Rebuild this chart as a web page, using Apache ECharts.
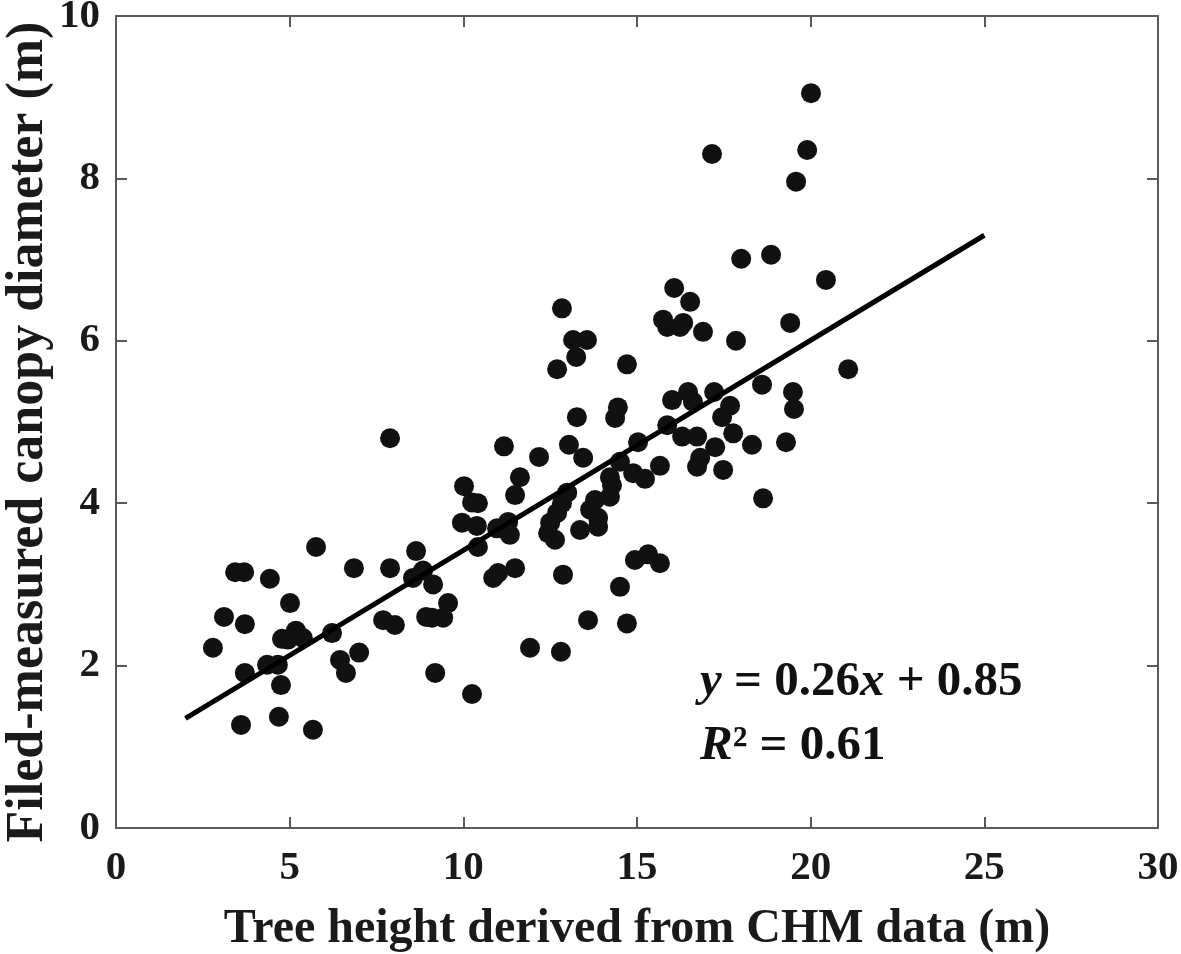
<!DOCTYPE html>
<html>
<head>
<meta charset="utf-8">
<script src="https://cdn.jsdelivr.net/npm/echarts@6/dist/echarts.min.js"></script>
<style>html,body{margin:0;padding:0;background:#fff;}#c{width:1181px;height:954px;}</style>
</head>
<body>
<div id="c"></div>
<script>
// Tree height (x, m) derived from CHM data
var treeHeight = [2.79,3.11,3.43,3.69,3.71,3.71,3.60,4.43,4.35,4.66,4.75,4.69,5.01,4.78,4.95,5.18,5.38,5.67,5.76,6.22,6.45,6.62,6.85,7.00,7.69,8.03,7.89,7.89,8.64,8.55,8.84,9.13,9.56,9.42,8.93,9.10,9.19,
  10.02,10.25,10.42,9.96,10.39,10.42,10.25,10.86,11.00,11.49,10.97,11.29,11.34,11.17,11.63,11.49,12.18,11.92,12.81,12.87,13.04,13.45,13.27,12.84,13.16,13.56,13.25,12.70,12.99,12.84,12.70,12.50,12.44,12.64,13.79,13.65,13.88,13.88,13.36,13.59,
  14.45,14.37,14.71,14.22,14.28,14.22,14.51,14.51,14.71,14.89,15.23,15.03,14.94,15.32,15.66,15.66,15.87,15.75,15.87,16.24,16.33,16.07,16.53,16.90,16.01,16.47,16.61,17.22,16.30,16.73,16.82,16.73,17.25,17.48,17.68,17.45,17.77,17.85,18.31,18.60,18.63,19.29,19.41,19.49,19.52,17.16,18.00,18.86,19.58,19.90,20.01,20.44,21.08];
// Field-measured canopy diameter (y, m)
var canopyDiameter = [2.22,2.60,3.15,3.15,2.51,1.91,1.27,3.07,2.01,2.01,1.76,1.37,2.77,2.33,2.32,2.43,2.34,1.21,3.46,2.40,2.07,1.91,3.20,2.16,2.56,2.50,4.80,3.20,3.41,3.08,3.17,3.00,2.77,2.59,2.60,2.59,1.91,
  4.21,4.01,4.00,3.76,3.72,3.46,1.65,3.08,3.14,3.20,3.69,3.77,3.61,4.70,4.32,4.10,4.57,2.22,2.17,3.12,4.72,4.56,5.06,6.40,6.01,6.01,5.80,5.65,4.13,4.00,3.88,3.76,3.63,3.55,4.04,3.92,3.82,3.71,3.67,2.56,
  5.18,5.05,5.71,4.32,4.22,4.08,4.51,2.97,2.52,4.37,4.30,4.75,3.30,3.37,3.26,4.46,4.96,6.26,6.17,6.17,6.22,6.65,6.48,6.11,5.27,5.37,5.25,5.37,4.82,4.82,4.56,4.45,4.69,4.41,5.20,5.06,4.86,6.00,4.72,5.46,4.06,4.75,6.22,5.37,5.16,8.30,7.01,7.06,7.96,8.35,9.05,6.75,5.65];
// Fitted line endpoints
var fitX = [2, 25];
var fitY = [1.35, 7.30];
var xTicks = [0, 5, 10, 15, 20, 25, 30];
var yTicks = [0, 2, 4, 6, 8, 10];
var xTitle = 'Tree height derived from CHM data (m)';
var yTitle = 'Filed-measured canopy diameter (m)';
var eqLine1 = ['y', ' = 0.26', 'x', ' + 0.85'];
var eqLine2 = ['R', '²', ' = 0.61'];

var points = treeHeight.map(function (v, i) { return [v, canopyDiameter[i]]; });
var fitLine = fitX.map(function (v, i) { return [v, fitY[i]]; });

var FONT = '"Liberation Serif", "Times New Roman", serif';
var axisCol = '#5a5a5a';
var labelStyle = { color: '#1a1a1a', fontFamily: FONT, fontWeight: 'bold', fontSize: 41 };

function boxAxis(pos) {
  return {
    type: 'value', position: pos, min: 0,
    max: pos === 'top' ? 30 : 10, interval: pos === 'top' ? 5 : 2,
    axisLine: { show: true, onZero: false, lineStyle: { color: axisCol, width: 2 } },
    axisTick: { show: true, inside: true, length: 11, lineStyle: { color: axisCol, width: 2 } },
    axisLabel: { show: false }, splitLine: { show: false }
  };
}

var chart = echarts.init(document.getElementById('c'), null, { renderer: 'canvas' });
chart.setOption({
  backgroundColor: '#ffffff',
  animation: false,
  grid: { left: 116, top: 16, right: 23, bottom: 126, containLabel: false, outerBoundsMode: 'none' },
  xAxis: [{
    type: 'value', min: 0, max: 30, interval: 5, position: 'bottom',
    name: xTitle, nameLocation: 'middle', nameGap: 78,
    nameTextStyle: { color: '#1a1a1a', fontFamily: FONT, fontWeight: 'bold', fontSize: 48 },
    axisLine: { show: true, onZero: false, lineStyle: { color: axisCol, width: 2 } },
    axisTick: { show: true, inside: true, length: 11, lineStyle: { color: axisCol, width: 2 } },
    axisLabel: Object.assign({ margin: 20, formatter: function (v) { return xTicks.indexOf(v) >= 0 ? String(v) : ''; } }, labelStyle),
    splitLine: { show: false }
  }, boxAxis('top')],
  yAxis: [{
    type: 'value', min: 0, max: 10, interval: 2, position: 'left',
    axisLine: { show: true, onZero: false, lineStyle: { color: axisCol, width: 2 } },
    axisTick: { show: true, inside: true, length: 11, lineStyle: { color: axisCol, width: 2 } },
    axisLabel: Object.assign({ margin: 16, formatter: function (v) { return yTicks.indexOf(v) >= 0 ? String(v) : ''; } }, labelStyle),
    splitLine: { show: false }
  }, boxAxis('right')],
  series: [{
    type: 'scatter', data: points, symbol: 'circle', symbolSize: 20,
    itemStyle: { color: '#111111', opacity: 1 }, z: 3
  }, {
    type: 'line', data: fitLine, symbol: 'none',
    lineStyle: { color: '#000000', width: 5 }, z: 4
  }],
  graphic: [{
    type: 'text', x: 29, y: 432, rotation: Math.PI / 2,
    style: {
      text: yTitle, fontFamily: FONT, fontWeight: 'bold', fontSize: 52, fill: '#1a1a1a',
      align: 'center', verticalAlign: 'middle'
    }
  }, {
    type: 'text', left: 700, top: 658,
    style: {
      text: '{i|' + eqLine1[0] + '}{n|' + eqLine1[1] + '}{i|' + eqLine1[2] + '}{n|' + eqLine1[3] + '}\n{i|' + eqLine2[0] + '}{s|' + eqLine2[1] + '}{n|' + eqLine2[2] + '}',
      rich: {
        i: { fontFamily: FONT, fontStyle: 'italic', fontWeight: 'bold', fontSize: 49, fill: '#111', lineHeight: 64 },
        n: { fontFamily: FONT, fontWeight: 'bold', fontSize: 49, fill: '#111', lineHeight: 64 },
        s: { fontFamily: FONT, fontWeight: 'bold', fontSize: 49, fill: '#111', lineHeight: 64 }
      }
    }
  }]
});
</script>
</body>
</html>
